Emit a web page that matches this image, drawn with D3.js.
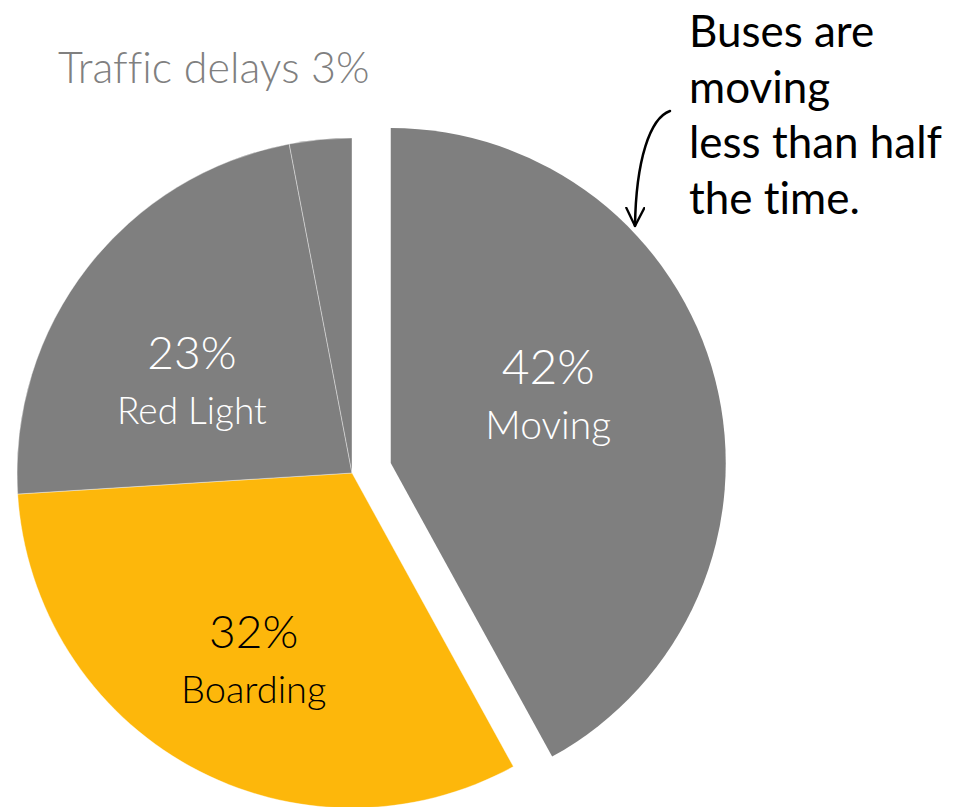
<!DOCTYPE html>
<html>
<head>
<meta charset="utf-8">
<script src="https://cdn.jsdelivr.net/npm/d3@7"></script>
<style>
  html, body { margin: 0; padding: 0; background: #fff; }
  svg { display: block; font-family: Lato, "Open Sans", sans-serif; font-variant-ligatures: none; }
</style>
</head>
<body>
<svg id="chart" width="960" height="807"></svg>
<script>
"use strict"

// slices, clockwise from 12 o'clock
const categories = ['Moving', 'Boarding', 'Red Light', 'Traffic delays']
const shares = [42, 32, 23, 3]
const sliceColors = ['#7f7f7f', '#fdb70b', '#7f7f7f', '#7f7f7f']
const labelColors = ['#ffffff', '#000000', '#ffffff', null]
const exploded = ['Moving']
const noteLines = ['Buses are', 'moving', 'less than half', 'the time.']

const width = 960, height = 807
const cx = 352, cy = 473, radius = 335, explode = 40

// label nudges: radius from centre and angle offset (deg) from slice bisector
const labelLayout = {
  'Moving': {r: 168, da: -6, pct: 48, name: 39},
  'Boarding': {r: 218, da: -2, pct: 46, name: 38},
  'Red Light': {r: 181, da: -10, pct: 46, name: 37},
}

const data = categories.map((c, i) => ({name: c, value: shares[i], color: sliceColors[i], text: labelColors[i]}))

const svg = d3.select('#chart')
const g = svg.append('g').attr('transform', `translate(${cx},${cy})`)

const pie = d3.pie().sort(null).value(d => d.value)
const arc = d3.arc().innerRadius(0).outerRadius(radius)
const arcs = pie(data)

const offset = a => {
  const mid = (a.startAngle + a.endAngle) / 2
  const k = exploded.includes(a.data.name) ? explode : 0
  return [Math.sin(mid) * k, -Math.cos(mid) * k]
}

g.selectAll('path.slice')
  .data(arcs)
  .enter().append('path')
    .attr('class', 'slice')
    .attr('transform', d => `translate(${offset(d)})`)
    .attr('d', arc)
    .attr('fill', d => d.data.color)
    .attr('stroke', d => exploded.includes(d.data.name) ? 'none' : '#ffffff')
    .attr('stroke-opacity', 0.55)
    .attr('stroke-width', 0.7)

const labels = g.selectAll('g.label')
  .data(arcs.filter(d => labelLayout[d.data.name]))
  .enter().append('g')
    .attr('class', 'label')
    .attr('transform', d => {
      const L = labelLayout[d.data.name]
      const a = (d.startAngle + d.endAngle) / 2 + L.da * Math.PI / 180
      const [ox, oy] = offset(d)
      return `translate(${ox + Math.sin(a) * L.r},${oy - Math.cos(a) * L.r})`
    })
    .attr('fill', d => d.data.text)
    .attr('text-anchor', 'middle')
    .style('font-weight', 300)

labels.append('text')
  .attr('y', -20)
  .style('font-size', d => `${labelLayout[d.data.name].pct}px`)
  .text(d => `${d.data.value}%`)

labels.append('text')
  .attr('y', 35)
  .style('font-size', d => `${labelLayout[d.data.name].name}px`)
  .text(d => d.data.name)

// small slice is labelled above the pie
const small = arcs.find(d => d.data.name === 'Traffic delays')
svg.append('text')
  .attr('x', 58)
  .attr('y', 83)
  .attr('fill', '#808080')
  .style('font-size', '43px')
  .style('font-weight', 300)
  .text(`${small.data.name} ${small.data.value}%`)

// annotation, sized so the longest line spans ~253px like the original
const note = svg.append('text')
  .attr('fill', '#000')
  .style('font-size', '48px')
note.selectAll('tspan')
  .data(noteLines)
  .enter().append('tspan')
    .attr('x', 689)
    .attr('y', (d, i) => 47 + i * 55.5)
    .text(d => d)
const widest = d3.max(note.selectAll('tspan').nodes(), n => n.getComputedTextLength())
note.style('font-size', `${48 * 253 / widest}px`)

svg.append('defs').append('marker')
    .attr('id', 'head')
    .attr('viewBox', '0 0 20 20')
    .attr('refX', 19).attr('refY', 10)
    .attr('markerWidth', 20).attr('markerHeight', 20)
    .attr('markerUnits', 'userSpaceOnUse')
    .attr('orient', 'auto')
  .append('path')
    .attr('d', 'M1,1 L19,10 L1,19')
    .attr('fill', 'none')
    .attr('stroke', '#000')
    .attr('stroke-width', 2.3)
    .attr('stroke-linecap', 'round')
    .attr('stroke-linejoin', 'round')

const curve = d3.path()
curve.moveTo(670, 111)
curve.bezierCurveTo(650, 118, 636, 160, 635, 226)
svg.append('path')
  .attr('d', curve.toString())
  .attr('fill', 'none')
  .attr('stroke', '#000')
  .attr('stroke-width', 2.5)
  .attr('stroke-linecap', 'round')
  .attr('marker-end', 'url(#head)')
</script>
</body>
</html>
